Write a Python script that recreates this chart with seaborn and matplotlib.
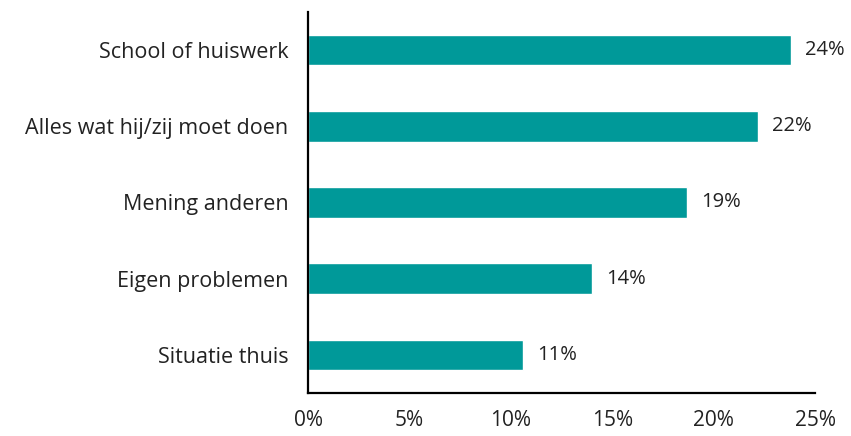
import pandas as pd
import numpy as np
import matplotlib.pyplot as plt
import seaborn as sns

categories = ["School of huiswerk", "Alles wat hij/zij moet doen", "Mening anderen",
              "Eigen problemen", "Situatie thuis"]
values = [23.8, 22.2, 18.7, 14.0, 10.6]
value_labels = ["24%", "22%", "19%", "14%", "11%"]
xticks = [0, 5, 10, 15, 20, 25]

sns.set_style("white")
plt.rcParams['font.family'] = ['Open Sans', 'DejaVu Sans']

df = pd.DataFrame({"cat": categories, "val": values})

fig = plt.figure(figsize=(8.51, 4.36), dpi=100)
ax = fig.add_axes([0.362, 0.0986, 0.596, 0.874])
sns.barplot(data=df, x="val", y="cat", color="#009999", width=0.4, saturation=1, ax=ax)

for i, (v, lab) in enumerate(zip(values, value_labels)):
    ax.annotate(lab, (v, i), xytext=(10, 0), textcoords="offset points",
                va="center", ha="left", fontsize=14.5, color="#222222")

ax.set_xlim(0, 25)
ax.set_ylim(4.5, -0.5)
ax.set_xticks(xticks)
ax.set_xticklabels([f"{t}%" for t in xticks], fontsize=15)
ax.tick_params(axis="y", labelsize=15.5, length=0, pad=14, labelcolor="#222222")
ax.tick_params(axis="x", length=0, pad=12, labelcolor="#222222")
ax.set_xlabel("")
ax.set_ylabel("")
for s in ["top", "right"]:
    ax.spines[s].set_visible(False)
for s in ["left", "bottom"]:
    ax.spines[s].set_color("black")
    ax.spines[s].set_linewidth(1.6)

fig.savefig("out.png", dpi=100)
